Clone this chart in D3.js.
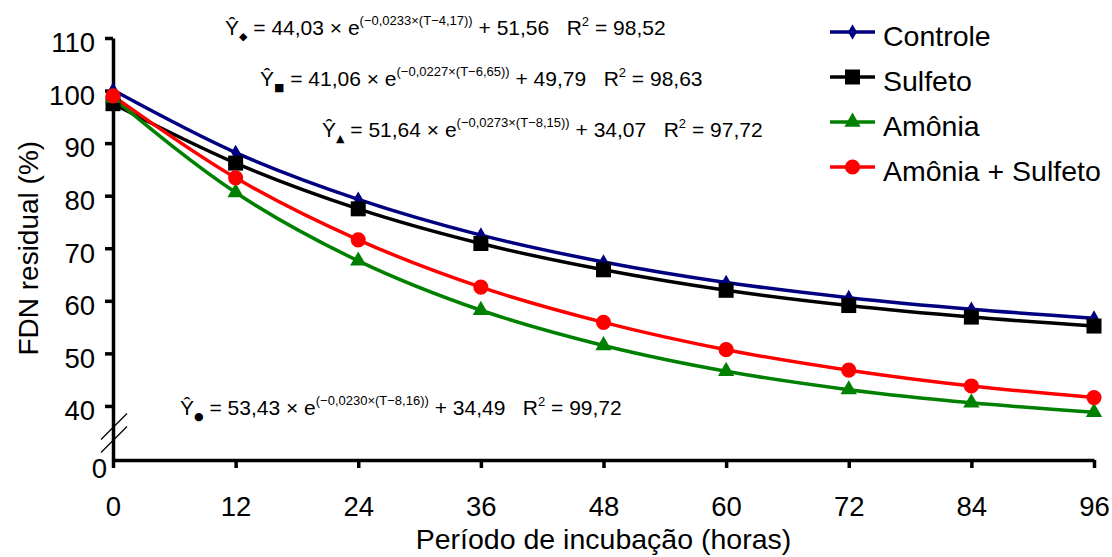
<!DOCTYPE html>
<html>
<head>
<meta charset="utf-8">
<script src="https://cdn.jsdelivr.net/npm/d3@7"></script>
<style>
  body { margin: 0; background: #fff; }
  svg { display: block; font-family: "Liberation Sans", Arial, sans-serif; }
</style>
</head>
<body>
<svg width="1112" height="557"></svg>
<script>
// incubation hours
var hours = [0, 12, 24, 36, 48, 60, 72, 84, 96]

// FDN residual (%)
var controle = [100.1, 88.2, 79.3, 72.5, 67.4, 63.5, 60.6, 58.4, 56.7]
var sulfeto = [97.5, 86.2, 77.5, 70.9, 65.9, 62.0, 59.1, 56.9, 55.2]
var amonia = [98.6, 80.6, 67.6, 58.2, 51.5, 46.6, 43.1, 40.6, 38.8]
var amoniaSulfeto = [99.0, 83.4, 71.6, 62.6, 55.9, 50.7, 46.8, 43.8, 41.6]

var seriesNames = ['Controle', 'Sulfeto', 'Amônia', 'Amônia + Sulfeto']
var seriesColors = ['#000080', '#000000', '#008000', '#ff0000']

var yTicks = [0, 40, 50, 60, 70, 80, 90, 100, 110]
var yBreakValues = [0, 40]   // axis jumps from 0 to 40

// fitted equations, same order as the series
var eqA = ['44,03', '41,06', '51,64', '53,43']
var eqB = ['0,0233', '0,0227', '0,0273', '0,0230']
var eqC = ['4,17', '6,65', '8,15', '8,16']
var eqD = ['51,56', '49,79', '34,07', '34,49']
var eqR2 = ['98,52', '98,63', '97,72', '99,72']
var eqSymbols = ['◆', '■', '▲', '●']

// where each equation sits (left x, baseline y)
var eqPos = [[225, 35], [260, 86], [322, 137], [180, 415]]

var svg = d3.select('svg')

var x = d3.scaleLinear()
  .domain([0, 96])
  .range([113, 1094])

// broken axis: 0 sits just under 30, the rest is linear
var y = d3.scaleLinear()
  .domain([0, 30, 110])
  .range([460, 458.5, 38])

var series = [controle, sulfeto, amonia, amoniaSulfeto].map(function (vals, i) {
  return {
    name: seriesNames[i],
    color: seriesColors[i],
    points: hours.map(function (h, j) { return { h: h, v: vals[j] } })
  }
})

var shapes = [d3.symbolDiamond, d3.symbolSquare, d3.symbolTriangle, d3.symbolCircle]
var shapeSizes = [70, 225, 115, 180]

function marker(i) {
  return d3.symbol().type(shapes[i]).size(shapeSizes[i])()
}

// axes
var yAxis = svg.append('g')
  .attr('transform', 'translate(' + x(0) + ',0)')
  .call(d3.axisLeft(y).tickValues(yTicks).tickSize(8).tickSizeOuter(0).tickPadding(10))
var xAxis = svg.append('g')
  .attr('transform', 'translate(0,' + y(0) + ')')
  .call(d3.axisBottom(x).tickValues(hours).tickSize(8).tickSizeOuter(0).tickPadding(28))

;[xAxis, yAxis].forEach(function (ax) {
  ax.select('.domain').attr('stroke-width', 3.5)
  ax.selectAll('.tick line').attr('stroke-width', 3.5)
  ax.selectAll('.tick text')
    .attr('font-family', '"Liberation Sans", Arial, sans-serif')
    .attr('font-size', 27.5)
    .attr('fill', '#000')
})
yAxis.selectAll('.tick text').attr('dy', '0.5em')
yAxis.selectAll('.tick').filter(function (d) { return d === 0 }).select('line').remove()
yAxis.selectAll('.tick').filter(function (d) { return d === 0 }).select('text').attr('x', -6).attr('dy', '0.62em')

// break marks on the y axis
var breakMid = (y(yBreakValues[0]) + y(yBreakValues[1])) / 2
;[-6.5, 6.5].forEach(function (off) {
  svg.append('line')
    .attr('x1', x(0) - 12).attr('y1', breakMid + off + 13)
    .attr('x2', x(0) + 14).attr('y2', breakMid + off - 13)
    .attr('stroke', '#000')
    .attr('stroke-width', 1.3)
})

// axis titles
svg.append('text')
  .attr('x', (x(0) + x(96)) / 2)
  .attr('y', 549)
  .attr('text-anchor', 'middle')
  .attr('font-size', 28.5)
  .text('Período de incubação (horas)')

svg.append('text')
  .attr('transform', 'translate(38,' + y(70) + ') rotate(-90)')
  .attr('text-anchor', 'middle')
  .attr('font-size', 28)
  .text('FDN residual (%)')

// lines and markers
var line = d3.line()
  .x(function (d) { return x(d.h) })
  .y(function (d) { return y(d.v) })
  .curve(d3.curveMonotoneX)

// diamonds sit under the lines
svg.append('g').selectAll('path')
  .data(series[0].points)
  .enter()
  .append('path')
    .attr('d', marker(0))
    .attr('transform', function (d) { return 'translate(' + x(d.h) + ',' + y(d.v) + ')' })
    .attr('fill', series[0].color)

series.forEach(function (s) {
  svg.append('path')
    .datum(s.points)
    .attr('d', line)
    .attr('fill', 'none')
    .attr('stroke', s.color)
    .attr('stroke-width', 3.5)
})

series.slice(1).forEach(function (s, k) {
  var i = k + 1
  svg.append('g').selectAll('path')
    .data(s.points)
    .enter()
    .append('path')
      .attr('d', marker(i))
      .attr('transform', function (d) { return 'translate(' + x(d.h) + ',' + y(d.v) + ')' })
      .attr('fill', s.color)
})

// legend
var legend = svg.append('g')
  .selectAll('g')
  .data(series)
  .enter()
  .append('g')
    .attr('transform', function (d, i) { return 'translate(830,' + (32 + i * 45) + ')' })

legend.append('line')
  .attr('x1', 0).attr('x2', 45)
  .attr('stroke', function (d) { return d.color })
  .attr('stroke-width', 3.5)
legend.append('path')
  .attr('d', function (d, i) { return marker(i) })
  .attr('transform', 'translate(22.5,0)')
  .attr('fill', function (d) { return d.color })
legend.append('text')
  .attr('x', 53)
  .attr('y', 14)
  .attr('font-size', 28.5)
  .text(function (d) { return d.name })

// equations
eqA.forEach(function (a, i) {
  var t = svg.append('text')
    .attr('x', eqPos[i][0])
    .attr('y', eqPos[i][1])
    .attr('font-size', 21)
    .style('white-space', 'pre')
  t.append('tspan').text('Ŷ')
  t.append('tspan')
    .attr('font-family', '"DejaVu Sans", sans-serif')
    .attr('font-size', 11).attr('dy', 5).text(eqSymbols[i])
  t.append('tspan').attr('dy', -5).text(' = ' + a + ' × e')
  t.append('tspan').attr('font-size', 13).attr('dy', -10)
    .text('(−' + eqB[i] + '×(T−' + eqC[i] + '))')
  t.append('tspan').attr('dy', 10).text(' + ' + eqD[i] + '   R')
  t.append('tspan').attr('font-size', 13).attr('dy', -9).text('2')
  t.append('tspan').attr('dy', 9).text(' = ' + eqR2[i])
})
</script>
</body>
</html>
